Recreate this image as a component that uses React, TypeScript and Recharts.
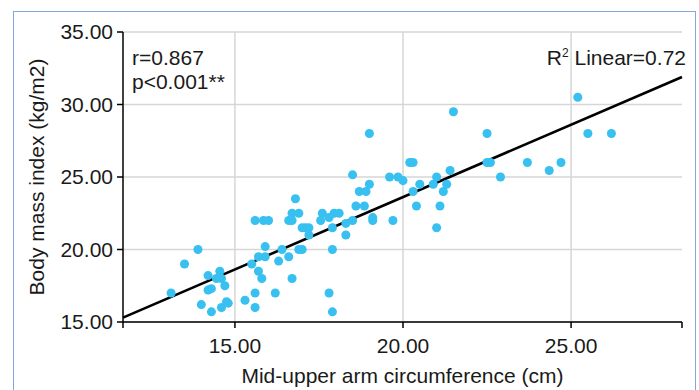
import React from "react";
import {
  ScatterChart,
  Scatter,
  XAxis,
  YAxis,
  ZAxis,
  CartesianGrid,
  ReferenceLine,
} from "recharts";

// Mid-upper arm circumference (cm)
const muac = [
  13.1, 13.5, 13.9, 14.0, 14.2, 14.2, 14.3, 14.3, 14.45, 14.55, 14.6, 14.6, 14.7,
  14.75, 14.8, 15.3, 15.5, 15.6, 15.6, 15.6, 15.7, 15.7, 15.8, 15.9, 15.9, 15.85,
  16.0, 16.2, 16.3, 16.4, 16.6, 16.7, 16.6, 16.7, 16.7, 16.8, 16.9, 16.9, 17.0,
  17.0, 17.1, 17.2, 17.2, 17.55, 17.6, 17.8, 17.8, 17.9, 17.9, 17.9, 17.95, 18.1,
  18.3, 18.3, 18.5, 18.5, 18.6, 18.7, 18.85, 18.9, 19.0, 19.0, 19.1, 19.1, 19.6,
  19.7, 19.85, 20.0, 20.2, 20.3, 20.3, 20.4, 20.5, 20.9, 21.0, 21.0, 21.1, 21.2,
  21.3, 21.4, 21.5, 22.5, 22.5, 22.6, 22.9, 23.7, 24.35, 24.7, 25.2, 25.5, 26.2,
];

// Body mass index (kg/m2)
const bmi = [
  17.0, 19.0, 20.0, 16.2, 18.2, 17.2, 17.3, 15.7, 18.0, 18.5, 18.0, 16.0, 17.5,
  16.4, 16.3, 16.5, 19.0, 17.0, 16.0, 22.0, 19.5, 18.5, 18.0, 20.2, 19.5, 22.0,
  22.0, 17.0, 19.2, 20.0, 22.0, 22.0, 19.5, 18.0, 22.5, 23.5, 22.5, 20.0, 20.0,
  21.5, 21.5, 21.5, 21.0, 22.0, 22.5, 22.2, 17.0, 21.5, 20.0, 15.7, 22.5, 22.5,
  21.8, 21.0, 22.0, 25.15, 23.0, 24.0, 23.0, 24.0, 24.5, 28.0, 22.2, 22.0, 25.0,
  22.0, 25.0, 24.75, 26.0, 26.0, 24.0, 23.0, 24.5, 24.5, 25.0, 21.5, 23.0, 24.0,
  24.5, 25.45, 29.5, 28.0, 26.0, 26.0, 25.0, 26.0, 25.45, 26.0, 30.5, 28.0, 28.0,
];

const xTicks = [15, 20, 25];
const xEndTicks = [11.67, 15, 20, 25, 28.3];
const yTicks = [15, 20, 25, 30, 35];
const xDomain = [11.67, 28.3];
const yDomain = [15, 35];

// fitted line endpoints
const fitStart = { x: 11.67, y: 15.3 };
const fitEnd = { x: 28.3, y: 31.9 };

const points = muac.map((x, i) => ({ x, y: bmi[i] }));

const font = "'Liberation Sans', Arial, Helvetica, sans-serif";
const ink = "#1a1a1a";
const dotColor = "#38c0f0";

export default function App() {
  return (
    <div
      style={{
        position: "absolute",
        left: 0,
        top: 0,
        width: 699,
        height: 390,
        background: "#fff",
        overflow: "hidden",
        fontFamily: font,
      }}
    >
      <div
        style={{
          position: "absolute",
          left: 13,
          top: 11,
          width: 681,
          height: 400,
          border: "1.5px solid #86a6d8",
        }}
      />
      <div style={{ position: "absolute", left: 0, top: 0 }}>
        <ScatterChart
          width={699}
          height={390}
          margin={{ top: 32, right: 17, bottom: 0, left: 0 }}
        >
          <CartesianGrid vertical={false} stroke="#d6d6d6" strokeWidth={1.5} />
          {xTicks.map((v) => (
            <ReferenceLine
              key={v}
              x={v}
              stroke="#d6d6d6"
              strokeWidth={1.5}
            />
          ))}
          <XAxis
            type="number"
            dataKey="x"
            domain={xDomain}
            ticks={xEndTicks}
            allowDataOverflow
            height={68}
            stroke="#000"
            strokeWidth={1.5}
            tickSize={6}
            tickMargin={10}
            tick={{ fontSize: 21, fill: ink, fontFamily: font }}
            tickLine={{ stroke: "#000", strokeWidth: 1.5 }}
            tickFormatter={(v: number) => (xTicks.includes(v) ? v.toFixed(2) : "")}
            label={{
              value: "Mid-upper arm circumference (cm)",
              position: "insideBottom",
              offset: 7,
              fontSize: 21,
              fill: ink,
              fontFamily: font,
            }}
          />
          <YAxis
            type="number"
            dataKey="y"
            domain={yDomain}
            ticks={yTicks}
            allowDataOverflow
            width={123}
            stroke="#000"
            strokeWidth={1.5}
            tickSize={6}
            tickMargin={4}
            tick={{ fontSize: 21, fill: ink, fontFamily: font }}
            tickLine={{ stroke: "#000", strokeWidth: 1.5 }}
            tickFormatter={(v: number) => v.toFixed(2)}
            label={{
              value: "Body mass index (kg/m2)",
              angle: -90,
              position: "insideLeft",
              offset: 37,
              fontSize: 21,
              fill: ink,
              fontFamily: font,
              style: { textAnchor: "middle" },
            }}
          />
          <ZAxis range={[40, 40]} />
          <Scatter
            data={points}
            fill={dotColor}
            isAnimationActive={false}
          />
          <ReferenceLine
            segment={[fitStart, fitEnd]}
            stroke="#000"
            strokeWidth={2.6}
            ifOverflow="visible"
          />
          <text x={132} y={65} fontSize={21} fill={ink} fontFamily={font}>
            r=0.867
          </text>
          <text x={132} y={89} fontSize={21} fill={ink} fontFamily={font}>
            p&lt;0.001**
          </text>
          <text
            x={686}
            y={65}
            fontSize={21}
            fill={ink}
            fontFamily={font}
            textAnchor="end"
          >
            R<tspan fontSize={12} dy={-8}>2</tspan>
            <tspan dy={8}> Linear=0.72</tspan>
          </text>
        </ScatterChart>
      </div>
    </div>
  );
}
